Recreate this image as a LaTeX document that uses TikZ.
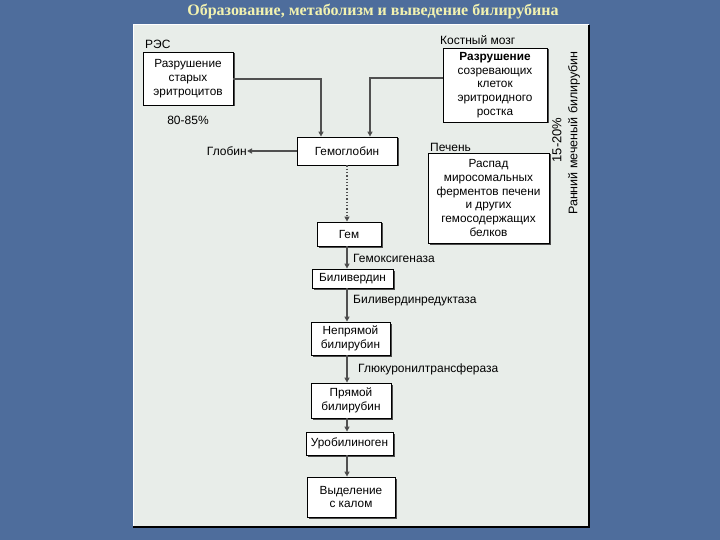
\documentclass[tikz,border=0pt]{standalone}
\usepackage{fontspec}
\setmainfont{Liberation Sans}
\newfontfamily\titlefont{Liberation Serif}
\usetikzlibrary{arrows.meta,shadows}
\definecolor{slidebg}{HTML}{4E6D9C}
\definecolor{panelbg}{HTML}{E8EDE9}
\definecolor{titlecol}{HTML}{F2F2B0}
\definecolor{linecol}{HTML}{505050}
\tikzset{
  boxstyle/.style={draw=black, line width=0.8pt, fill=white, align=center,
    inner sep=1pt, font=\fontsize{11.8}{13.8}\selectfont,
    drop shadow={shadow xshift=1.5pt, shadow yshift=-1.5pt, fill=black!70, opacity=1}},
  lbl/.style={font=\fontsize{12}{13}\selectfont, inner sep=0pt},
  conn/.style={draw=linecol, line width=1.3pt, -{Triangle[length=5pt,width=5pt,fill=black]}},
}
\begin{document}
\begin{tikzpicture}[x=1pt,y=-1pt]
\useasboundingbox (0,0) rectangle (720,540);
\fill[slidebg] (0,0) rectangle (720,540);
% title
\node[font=\titlefont\bfseries\fontsize{16}{18}\selectfont, text=titlecol, inner sep=0pt] (title) at (373,12) {Образование, метаболизм и выведение билирубина};
% panel
\fill[panelbg] (133,25) rectangle (589,527);
\draw[white, line width=1pt] (133,527) -- (133,25) -- (589,25);
\draw[black, line width=2pt] (589,25) -- (589,527) -- (133,527);
% boxes
\node[boxstyle, minimum width=90pt, minimum height=53pt] (res) at (188,78.5) {Разрушение\\старых\\эритроцитов};
\node[boxstyle, minimum width=104pt, minimum height=74pt] (kost) at (495,85) {\textbf{Разрушение}\\созревающих\\клеток\\эритроидного\\ростка};
\node[boxstyle, minimum width=121pt, minimum height=90pt] (pech) at (488.5,198) {Распад\\миросомальных\\ферментов печени\\и других\\гемосодержащих\\белков};
\node[boxstyle, minimum width=100pt, minimum height=28pt] (hb) at (347,151) {Гемоглобин};
\node[boxstyle, minimum width=64pt, minimum height=24pt] (gem) at (349,234) {Гем};
\node[boxstyle, minimum width=81pt, minimum height=19pt] (bv) at (352.5,278.5) {Биливердин};
\node[boxstyle, minimum width=79pt, minimum height=33pt] (nb) at (350.5,338.5) {Непрямой\\билирубин};
\node[boxstyle, minimum width=80pt, minimum height=35pt] (pb) at (351,400.5) {Прямой\\билирубин};
\node[boxstyle, minimum width=87pt, minimum height=23pt] (ub) at (349.5,443.5) {Уробилиноген};
\node[boxstyle, minimum width=88pt, minimum height=40pt] (vk) at (351,497) {Выделение\\с калом};
% labels
\node[lbl, anchor=west] (reslbl) at (145,44) {РЭС};
\node[lbl] (pct) at (188,120) {80-85\%};
\node[lbl, anchor=west] (kostlbl) at (440,40) {Костный мозг};
\node[lbl, anchor=west] (pechlbl) at (430,147) {Печень};
\node[lbl, anchor=east] (glob) at (247,151) {Глобин};
\node[lbl, anchor=west] (e1) at (353,258) {Гемоксигеназа};
\node[lbl, anchor=west] (e2) at (353,301) {Биливердинредуктаза};
\node[lbl, anchor=west] (e3) at (358,369) {Глюкуронилтрансфераза};
\node[lbl, rotate=90, font=\fontsize{13}{14}\selectfont] (p2) at (557,140) {15-20\%};
\node[lbl, rotate=90, font=\fontsize{12.5}{14}\selectfont] (early) at (574,133) {Ранний меченый билирубин};
% connectors
\draw[conn] ([yshift=-0.5pt]res.east) -| ([xshift=-26pt]hb.north);
\draw[conn] ([yshift=7pt]kost.west) -| ([xshift=23pt]hb.north);
\draw[conn] (hb.west) -- (glob.east);
\draw[conn, dotted] (hb.south) -- (hb.south |- gem.north);
\draw[conn] (gem.south -| hb.south) -- (hb.south |- bv.north);
\draw[conn] (bv.south -| hb.south) -- (hb.south |- nb.north);
\draw[conn] (nb.south -| hb.south) -- (hb.south |- pb.north);
\draw[conn] (pb.south -| hb.south) -- (hb.south |- ub.north);
\draw[conn] (ub.south -| hb.south) -- (hb.south |- vk.north);
\end{tikzpicture}
\end{document}
